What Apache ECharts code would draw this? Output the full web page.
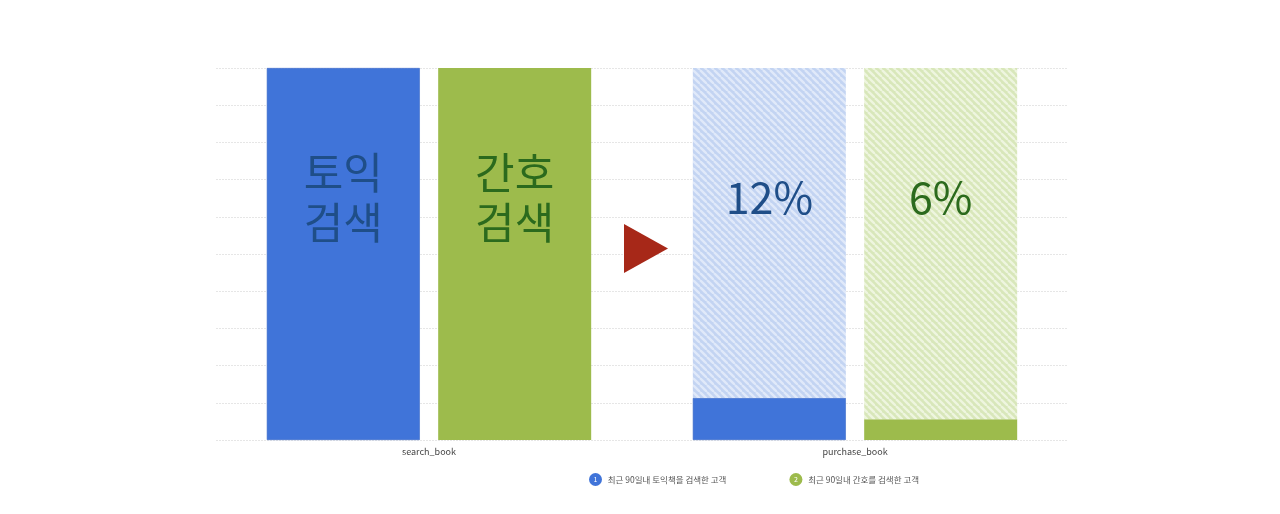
<!DOCTYPE html>
<html>
<head>
<meta charset="utf-8">
<script src="https://cdn.jsdelivr.net/npm/echarts@6/dist/echarts.min.js"></script>
<style>
  html, body { margin: 0; padding: 0; background: #fff; }
  #main { width: 1280px; height: 514px; }
</style>
</head>
<body>
<div id="main"></div>
<script>
// 카테고리 / 값
let categories = ['search_book', 'purchase_book']
let seriesNames = ['최근 90일내 토익책을 검색한 고객', '최근 90일내 간호를 검색한 고객']
let tokValues = [100, 11.3]   // 토익 (%)
let nurseValues = [100, 5.6]  // 간호 (%)
let tokLabels = ['토익\n검색', '12%']
let nurseLabels = ['간호\n검색', '6%']
let totalValue = 100

let BLUE = '#4074d9'
let GREEN = '#9dbb4c'
let BLUE_TEXT = '#1f4e88'
let GREEN_TEXT = '#2b6a1d'
let FONT = '"Noto Sans CJK KR", "Noto Sans", sans-serif'
let BAR_W = 153

// 빗금 패턴
function stripes (base, line) {
    let s = 7
    let c = document.createElement('canvas')
    c.width = s
    c.height = s
    let ctx = c.getContext('2d')
    ctx.fillStyle = base
    ctx.fillRect(0, 0, s, s)
    ctx.strokeStyle = line
    ctx.lineWidth = 2.4
    for (let x0 = -s; x0 <= s; x0 += s) {
        ctx.beginPath()
        ctx.moveTo(x0, 0)
        ctx.lineTo(x0 + s, s)
        ctx.stroke()
    }
    return { image: c, repeat: 'repeat' }
}

function bigLabel (color, text) {
    return {
        show: true,
        position: ['50%', 130],
        align: 'center',
        verticalAlign: 'middle',
        fontSize: 43,
        lineHeight: 50,
        color: color,
        fontFamily: FONT,
        formatter: text
    }
}

// 실제 값 막대 (라벨은 전체 높이 막대에만)
function solidData (values, labels, color) {
    return values.map(function (v, i) {
        return {
            value: v,
            label: v >= totalValue ? bigLabel(color, labels[i]) : { show: false }
        }
    })
}

// 나머지 빗금 막대
function restData (values, labels, color) {
    return values.map(function (v, i) {
        return {
            value: totalValue - v,
            label: v < totalValue ? bigLabel(color, labels[i]) : { show: false }
        }
    })
}

let myChart = echarts.init(document.getElementById('main'))
myChart.setOption({
    animation: false,
    textStyle: { fontFamily: FONT },
    grid: { left: 216, right: 212, top: 68, bottom: 74 },
    xAxis: {
        type: 'category',
        data: categories,
        axisLine: { show: false },
        axisTick: { show: false },
        axisLabel: { color: '#444', fontSize: 9, margin: 7, fontFamily: FONT }
    },
    yAxis: {
        type: 'value',
        min: 0,
        max: 100,
        interval: 10,
        axisLabel: { show: false },
        axisLine: { show: false },
        axisTick: { show: false },
        splitLine: { lineStyle: { color: '#e6e6e6', type: [2, 1], width: 1 } }
    },
    legend: {
        data: seriesNames,
        left: 579,
        top: 468,
        icon: 'none',
        itemWidth: 0,
        itemHeight: 0,
        itemGap: 58,
        selectedMode: false,
        formatter: function (name) {
            let idx = seriesNames.indexOf(name)
            return '{n' + idx + '|' + (idx + 1) + '}   ' + name
        },
        textStyle: {
            color: '#555',
            fontSize: 8.5,
            fontFamily: FONT,
            rich: {
                n0: { backgroundColor: BLUE, color: '#fff', width: 13, height: 13, lineHeight: 13, borderRadius: 7, align: 'center', fontSize: 7 },
                n1: { backgroundColor: GREEN, color: '#fff', width: 13, height: 13, lineHeight: 13, borderRadius: 7, align: 'center', fontSize: 7 }
            }
        }
    },
    series: [
        {
            name: seriesNames[0],
            type: 'bar',
            stack: 'tok',
            barWidth: BAR_W,
            barGap: '12%',
            itemStyle: { color: BLUE, borderColor: '#3a68c8', borderWidth: 0.6 },
            data: solidData(tokValues, tokLabels, BLUE_TEXT)
        },
        {
            name: 'tok_rest',
            type: 'bar',
            stack: 'tok',
            barWidth: BAR_W,
            barGap: '12%',
            itemStyle: { color: stripes('#c3d4f2', '#e0e9f9') },
            data: restData(tokValues, tokLabels, BLUE_TEXT)
        },
        {
            name: seriesNames[1],
            type: 'bar',
            stack: 'nurse',
            barWidth: BAR_W,
            barGap: '12%',
            itemStyle: { color: GREEN },
            data: solidData(nurseValues, nurseLabels, GREEN_TEXT)
        },
        {
            name: 'nurse_rest',
            type: 'bar',
            stack: 'nurse',
            barWidth: BAR_W,
            barGap: '12%',
            itemStyle: { color: stripes('#d8e7ba', '#eef5df') },
            data: restData(nurseValues, nurseLabels, GREEN_TEXT)
        }
    ],
    graphic: [
        {
            type: 'polygon',
            x: 624,
            y: 224,
            z: 100,
            shape: { points: [[0, 0], [44, 24.5], [0, 49]] },
            style: { fill: '#a72818' }
        }
    ]
})
</script>
</body>
</html>
